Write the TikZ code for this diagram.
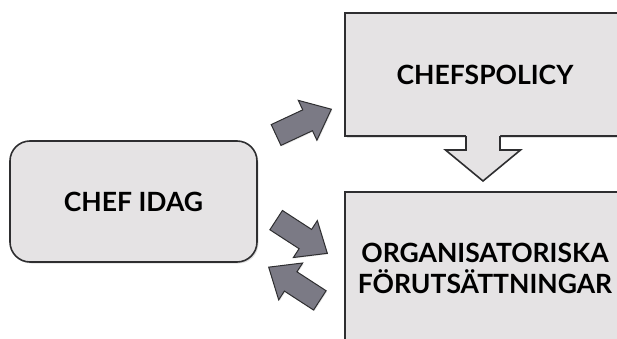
\documentclass[tikz,border=0pt]{standalone}
\usepackage{fontspec}
\setmainfont{Lato}
\usetikzlibrary{shapes.arrows,shadows}
\definecolor{boxgray}{HTML}{E5E3E4}
\definecolor{arrowgray}{HTML}{7B7A85}
\definecolor{linegray}{HTML}{2E2E30}
\begin{document}
\begin{tikzpicture}[x=1pt,y=1pt]
\tikzstyle{mybox} = [draw=linegray, line width=1.6pt, fill=boxgray, align=center, inner sep=0pt, font=\fontsize{26.5}{27}\selectfont\bfseries, drop shadow={opacity=0.25, shadow xshift=1.5pt, shadow yshift=-1.5pt}] % box style
\tikzstyle{myarrow} = [single arrow, draw=linegray, line width=1pt, fill=arrowgray, inner xsep=0pt, inner ysep=11pt, minimum width=43pt, minimum height=61pt, single arrow head extend=10.5pt, single arrow tip angle=80, drop shadow={opacity=0.2, shadow xshift=1pt, shadow yshift=-1pt}] % gray arrow style
\useasboundingbox (0,0) rectangle (617,338);
\clip (0,0) rectangle (617,338);

\node[mybox, rounded corners=20pt, minimum width=247pt, minimum height=121pt] (idag) at (133.5,136.5) {CHEF IDAG}; % left box
\node[mybox, minimum width=280pt, minimum height=123pt] (policy) at (485,263.5) {CHEFSPOLICY}; % upper box
\node[mybox, minimum width=280pt, minimum height=153pt] (org) at (485,69.5) {ORGANISATORISKA\\[4pt]FÖRUTSÄTTNINGAR}; % lower box

% hollow arrow under the upper box
\coordinate (drop) at (483,202);
\path[fill=boxgray] ([shift={(-17,1.2)}]drop) -- ([shift={(-17,-14)}]drop) -- ([shift={(-37.5,-14)}]drop) -- ([shift={(0,-45)}]drop) -- ([shift={(37.5,-14)}]drop) -- ([shift={(17,-14)}]drop) -- ([shift={(17,1.2)}]drop) -- cycle;
\draw[linegray, line width=1.6pt] ([shift={(-17,0)}]drop) -- ([shift={(-17,-14)}]drop) -- ([shift={(-37.5,-14)}]drop) -- ([shift={(0,-45)}]drop) -- ([shift={(37.5,-14)}]drop) -- ([shift={(17,-14)}]drop) -- ([shift={(17,0)}]drop);

% gray arrows
\node[myarrow, rotate=25] (toPolicy) at (297.5,213) {};
\node[myarrow, rotate=-33] (toOrg) at (296,105) {};
\node[myarrow, rotate=147] (fromOrg) at (300,50.5) {};
\end{tikzpicture}
\end{document}
